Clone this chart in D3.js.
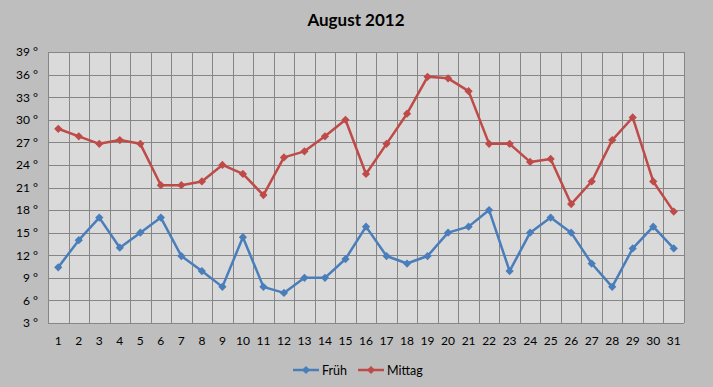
<!DOCTYPE html>
<html><head><meta charset="utf-8">
<script src="https://cdn.jsdelivr.net/npm/d3@7"></script>
<style>
html,body{margin:0;padding:0;background:#bebebe;}
svg{display:block;}
text{font-family:Lato,"Open Sans",sans-serif;fill:#000;}
</style></head><body>
<div id="chart"></div>
<script>
const title = "August 2012";
const days = d3.range(1, 32).map(String);
const fruh = [10.4,14,17,13,15,17,11.9,9.9,7.8,14.4,7.8,7,9,9,11.5,15.8,11.9,10.9,11.9,15,15.8,18,9.9,15,17,15,10.9,7.8,12.9,15.8,12.9];
const mittag = [28.8,27.8,26.8,27.3,26.8,21.3,21.3,21.8,24,22.8,20,25,25.8,27.8,30,22.8,26.8,30.8,35.7,35.5,33.8,26.8,26.8,24.4,24.8,18.8,21.8,27.3,30.3,21.8,17.8];
const yTicks = [3,6,9,12,15,18,21,24,27,30,33,36,39];
const seriesNames = ["Früh","Mittag"];
const colors = ["#4a7ebb","#be4b48"];

const W = 713, H = 387;
const m = {left:48, top:52, right:W-684, bottom:H-323};
const svg = d3.select("#chart").append("svg").attr("width",W).attr("height",H);
svg.append("rect").attr("width",W).attr("height",H).attr("fill","#bebebe");

const x = d3.scaleBand().domain(days).range([m.left, W-m.right]);
const y = d3.scaleLinear().domain([3,39]).range([H-m.bottom, m.top]);

svg.append("rect").attr("x",m.left).attr("y",m.top)
  .attr("width",W-m.left-m.right).attr("height",H-m.top-m.bottom)
  .attr("fill","#dadada");

const g = svg.append("g");
g.selectAll(".h").data(yTicks).join("line")
  .attr("x1",m.left).attr("x2",W-m.right)
  .attr("y1",d=>Math.round(y(d))+0.5).attr("y2",d=>Math.round(y(d))+0.5)
  .attr("stroke","#868686").attr("stroke-width",1);
const bounds = days.map(d=>x(d)).concat([x(days[days.length-1])+x.bandwidth()]);
g.selectAll(".v").data(bounds).join("line")
  .attr("x1",d=>Math.round(d)+0.5).attr("x2",d=>Math.round(d)+0.5)
  .attr("y1",m.top).attr("y2",H-m.bottom)
  .attr("stroke","#868686").attr("stroke-width",1);

const yAxis = d3.axisLeft(y).tickValues(yTicks).tickSize(0).tickPadding(10).tickFormat(d=>d+" °");
const ya = svg.append("g").attr("transform",`translate(${m.left},0)`).call(yAxis);
ya.select(".domain").remove();
ya.selectAll("text").style("font-size","12px").style("font-family","Lato,'Open Sans',sans-serif");

const xAxis = d3.axisBottom(x).tickSize(0).tickPadding(13);
const xa = svg.append("g").attr("transform",`translate(0,${H-m.bottom})`).call(xAxis);
xa.select(".domain").remove();
xa.selectAll("text").style("font-size","12px").style("font-family","Lato,'Open Sans',sans-serif");

const cx = d=>x(d)+x.bandwidth()/2;
const series = [fruh, mittag];
const diamond = d3.symbol().type(d3.symbolSquare).size(34);
series.forEach((vals,i)=>{
  const line = d3.line().x((v,j)=>cx(days[j])).y(v=>y(v));
  svg.append("path").datum(vals).attr("d",line).attr("fill","none")
    .attr("stroke",colors[i]).attr("stroke-width",2.5).attr("stroke-linejoin","round");
  svg.append("g").selectAll("path").data(vals).join("path")
    .attr("d",diamond).attr("fill",colors[i])
    .attr("transform",(v,j)=>`translate(${cx(days[j])},${y(v)}) rotate(45)`);
});

svg.append("text").attr("x",356).attr("y",26).attr("text-anchor","middle")
  .style("font-size","17px").style("font-weight","bold").text(title);

const legX = [293, 358];
seriesNames.forEach((n,i)=>{
  const lg = svg.append("g");
  lg.append("line").attr("x1",legX[i]).attr("x2",legX[i]+26).attr("y1",370).attr("y2",370)
    .attr("stroke",colors[i]).attr("stroke-width",2.5);
  lg.append("path").attr("d",diamond).attr("fill",colors[i]).attr("transform",`translate(${legX[i]+13},370) rotate(45)`);
  lg.append("text").attr("x",legX[i]+29).attr("y",374.5).style("font-size","12.5px").text(n);
});
</script>
</body></html>
